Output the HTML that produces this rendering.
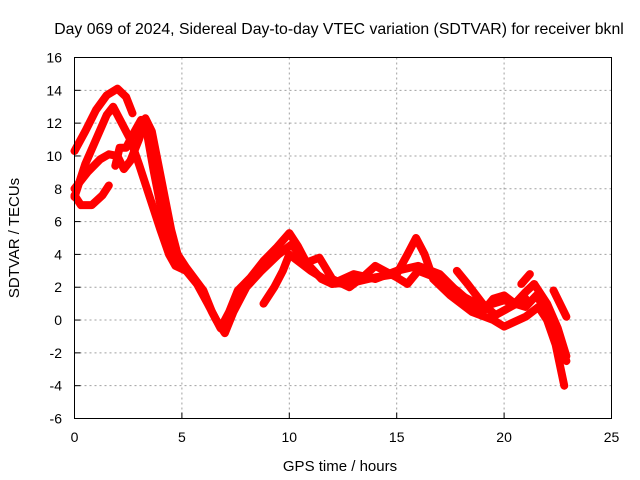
<!DOCTYPE html>
<html><head><meta charset="utf-8"><style>
body{margin:0;background:#fff;}
svg{display:block;font-family:"Liberation Sans",sans-serif;}
</style></head><body>
<svg id="chart" width="640" height="480" xmlns="http://www.w3.org/2000/svg">
<text x="339" y="34" text-anchor="middle" font-size="15.8">Day 069 of 2024, Sidereal Day-to-day VTEC variation (SDTVAR) for receiver bknl</text>
<text transform="translate(19,238) rotate(-90)" text-anchor="middle" font-size="15">SDTVAR / TECUs</text>
<text x="340" y="471" text-anchor="middle" font-size="15">GPS time / hours</text>
<g id="grid"></g><g id="ticks"></g><g id="series"></g>
<rect x="74.5" y="57.5" width="537" height="361" fill="none" stroke="#000" stroke-width="1"/>
</svg>
<script>
const xTicks=[0,5,10,15,20,25];
const yTicks=[-6,-4,-2,0,2,4,6,8,10,12,14,16];
const s1=[[0,10.3],[0.5,11.5],[1,12.8],[1.5,13.7],[2,14.1],[2.4,13.6],[2.7,12.6]];
const s2=[[0,7.5],[0.5,9.5],[1,11],[1.5,12.5],[1.8,13],[2.2,12],[2.6,11],[3,9.5],[3.5,7.5],[4,5.5],[4.4,4],[4.7,3.3],[5.2,3],[5.7,2.2],[6.2,1],[6.6,0],[7,-0.8],[7.4,0.5],[8,2],[8.7,3],[9.5,4],[10.1,4.6],[10.5,4],[11,3.2],[11.5,2.5],[12,2.2],[13,2.3],[14,2.6],[15,2.8],[15.5,4],[15.9,5],[16.3,4],[16.7,2.5],[17.5,1.5],[18.5,0.5],[19.5,0],[20,-0.4],[21,0.2],[21.6,0.8],[22,0],[22.4,-1.5],[22.8,-4]];
const s3=[[0,7.6],[0.3,7],[0.8,7],[1.3,7.6],[1.6,8.2]];
const s4=[[0,8],[0.6,9],[1.2,9.8],[1.6,10.1],[2,10],[2.3,9.2],[2.6,9.7],[3,11],[3.3,12.3],[3.6,11.5],[3.9,9.5],[4.2,7.5],[4.5,5.5],[4.8,4],[5.2,3.2],[5.6,2.5],[6,1.8],[6.4,0.5],[6.8,-0.5],[7.2,0.5],[7.6,1.8],[8.2,2.6],[8.8,3.6],[9.4,4.4],[10,5.3],[10.4,4.5],[10.8,3.5],[11.4,3.8],[12,2.5],[12.8,2],[13.5,2.7],[14,3.3],[15,2.6],[15.5,2.2],[16,3],[17,2.5],[17.8,1.8],[18.5,1],[19,0.5],[19.5,1.3],[20,1.5],[20.5,1],[21,1.7],[21.4,2.2],[22,1],[22.5,-0.5],[22.9,-2.2]];
const s5=[[1.9,9.4],[2.1,10.5],[2.4,10.5],[2.8,11.5],[3.1,12.2],[3.4,11.2],[3.7,9],[4,7],[4.4,5],[4.8,3.5]];
const s6=[[8.8,1],[9.3,2],[9.7,3],[10,4],[10.5,3.5],[11,3],[12,2.2],[13,2.8],[14,2.5],[15,3],[16,3.3],[17,2.8],[18,1.5],[19,0.8],[20,1.2],[21,0.8],[21.5,1.5],[22,0.5],[22.5,-1],[22.9,-2.5]];
const s7=[[20.8,2.2],[21.2,2.8]];
const s8=[[22.3,1.8],[22.9,0.2]];
const s9=[[17.8,3],[18.3,2.2],[19,1],[19.6,0.3],[20.3,0.8],[21,1.3]];
const allSeries=[s1,s2,s3,s4,s5,s6,s7,s8,s9];
const X0=74.5,X1=611.5,Y0=418.5,Y1=57.5;
const xs=h=>X0+(h-0)/(25-0)*(X1-X0);
const ys=v=>Y0-(v+6)/(16+6)*(Y0-Y1);
const NS="http://www.w3.org/2000/svg";
const grid=document.getElementById('grid'),ticks=document.getElementById('ticks'),ser=document.getElementById('series');
function mk(t,a,p){const e=document.createElementNS(NS,t);for(const k in a)e.setAttribute(k,a[k]);p.appendChild(e);return e;}
xTicks.forEach(t=>{const x=xs(t);
 if(t>0&&t<25){const g=mk('line',{x1:x,x2:x,y1:Y1,y2:Y0,stroke:'#a0a0a0','stroke-dasharray':'2,3'},grid);
 
 }
 const tk=mk('line',{x1:x,x2:x,y1:Y0,y2:Y0-6,stroke:'#000'},ticks);
 
 
 const l=mk('text',{x:x,y:442,'text-anchor':'middle','font-size':'14'},ticks);l.textContent=t;
 
 
});
yTicks.forEach(t=>{const y=ys(t);
 if(t>-6&&t<16){const g=mk('line',{x1:X0,x2:X1,y1:y,y2:y,stroke:'#a0a0a0','stroke-dasharray':'2,3'},grid);
 
 }
 const tk=mk('line',{x1:X0,x2:X0+6,y1:y,y2:y,stroke:'#000'},ticks);
 
 
 const l=mk('text',{x:62,y:y+5,'text-anchor':'end','font-size':'14'},ticks);l.textContent=t;
 
 
});
allSeries.forEach((s,i)=>{
 const p=mk('polyline',{points:s.map(d=>xs(d[0])+','+ys(d[1])).join(' '),fill:'none',stroke:'#ff0000','stroke-width':'8','stroke-linejoin':'round','stroke-linecap':'round'},ser);
 
 
});
</script>
</body></html>
